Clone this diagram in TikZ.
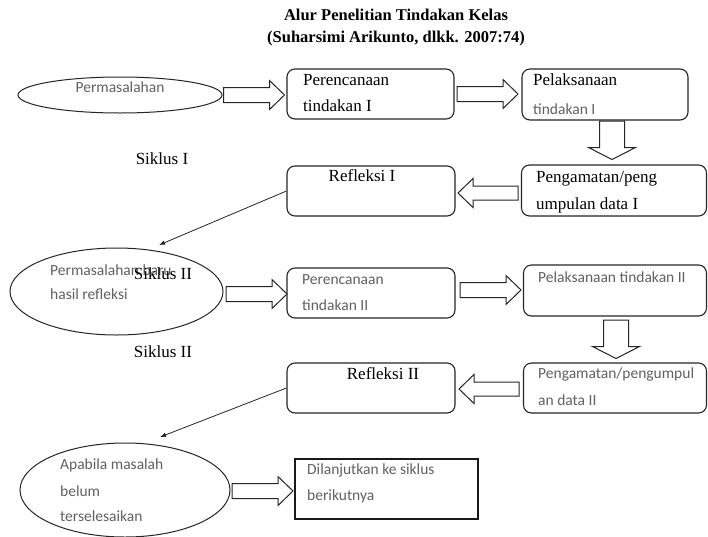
\documentclass[tikz,border=0pt]{standalone}
\usepackage{fontspec}
\setmainfont{Liberation Serif}
\newfontfamily\sansf{Carlito}
\usetikzlibrary{shapes.geometric,arrows.meta}
\begin{document}
\begin{tikzpicture}[x=1pt,y=-1pt,
  rbox/.style={draw=black!85,line width=1.1pt,rounded corners=8pt,inner sep=0pt},
  sbox/.style={draw=black!90,line width=1.1pt,inner sep=0pt},
  ell/.style={ellipse,draw=black!85,line width=1pt,inner sep=0pt},
  ser/.style={font=\fontsize{17}{20}\selectfont,inner sep=0pt,text height=0.7em,text depth=0.2em},
  sertitle/.style={font=\bfseries\fontsize{16.5}{20}\selectfont,inner sep=0pt,text height=0.7em,text depth=0.2em},
  san/.style={font=\sansf\fontsize{15.5}{18}\selectfont,text=black!62,inner sep=0pt,text height=0.7em,text depth=0.2em},
  blk/.style={draw=black!85,line width=1pt,fill=white,line join=miter},
  thinarr/.style={draw=black!85,line width=0.8pt,-{Latex[length=6pt,width=4.5pt]}},
  rblock/.pic={\draw[blk] (0,-7.5)--(46,-7.5)--(46,-14.5)--(61,0)--(46,14.5)--(46,7.5)--(0,7.5)--cycle;},
  lblock/.pic={\draw[blk] (0,-7)--(-45,-7)--(-45,-14.5)--(-60,0)--(-45,14.5)--(-45,7)--(0,7)--cycle;},
  dblock/.pic={\draw[blk] (-12.5,0)--(-12.5,26.5)--(-23.5,26.5)--(0,38.5)--(23.5,26.5)--(12.5,26.5)--(12.5,0)--cycle;}
]
\useasboundingbox (0,0) rectangle (708,536);
\fill[white] (0,0) rectangle (708,536);

% title
\node[sertitle] (t1) at (396,18) {Alur Penelitian Tindakan Kelas};
\node[sertitle] (t2) at (396,40) {(Suharsimi Arikunto, dlkk. 2007:74)};

% shapes
\node[ell,minimum width=204pt,minimum height=36pt] (E1) at (120,95) {};
\node[rbox,minimum width=167pt,minimum height=50pt] (B1) at (370.5,94) {};
\node[rbox,minimum width=166pt,minimum height=51pt] (B2) at (605,94.5) {};
\node[rbox,minimum width=168pt,minimum height=50pt] (B3) at (371,191) {};
\node[rbox,minimum width=185pt,minimum height=51pt] (B4) at (614,190.5) {};
\node[ell,minimum width=213pt,minimum height=87pt] (E2) at (116.5,291.5) {};
\node[rbox,minimum width=168pt,minimum height=50pt] (B5) at (371,293) {};
\node[rbox,minimum width=183pt,minimum height=51pt] (B6) at (615,290.5) {};
\node[rbox,minimum width=168pt,minimum height=50pt] (B7) at (371,388) {};
\node[rbox,minimum width=183pt,minimum height=50pt] (B8) at (615,388) {};
\node[ell,minimum width=210pt,minimum height=94pt] (E3) at (125,490) {};
\node[sbox,minimum width=183pt,minimum height=60pt] (B9) at (386.5,489) {};

% block arrows
\pic at (223.5,95) {rblock};
\pic at (457,94) {rblock};
\pic at (518,193) {lblock};
\pic at (226,294) {rblock};
\pic at (460,290) {rblock};
\pic at (519,389) {lblock};
\pic at (232,491) {rblock};
\pic at (612,121) {dblock};
\pic at (616,320) {dblock};

% thin arrows
\coordinate (p1) at (159,245);
\coordinate (p2) at (160,437);
\draw[thinarr] (B3.west) -- (p1);
\draw[thinarr] (B7.west) -- (p2);

% texts
\node[san] (x1) at (120,90) {Permasalahan};
\node[ser,anchor=west] (x2) at (303,83) {Perencanaan};
\node[ser,anchor=west] (x3) at (303,109) {tindakan I};
\node[ser,anchor=west] (x4) at (533,83) {Pelaksanaan};
\node[san,anchor=west] (x5) at (533,112) {tindakan I};
\node[ser] (s1) at (162,162) {Siklus I};
\node[ser] (x6) at (362,179) {Refleksi I};
\node[ser,anchor=west] (x7) at (536,180) {Pengamatan/peng};
\node[ser,anchor=west] (x8) at (536,207) {umpulan data I};
\node[san,anchor=west] (x9) at (50,273) {Permasalahan baru};
\node[san,anchor=west] (x10) at (50,297) {hasil refleksi};
\node[ser] (s2) at (163,277) {Siklus II};
\node[san,anchor=west] (x11) at (302,282) {Perencanaan};
\node[san,anchor=west] (x12) at (302,308) {tindakan II};
\node[san,anchor=west] (x13) at (538,280) {Pelaksanaan tindakan II};
\node[ser] (s3) at (163,355) {Siklus II};
\node[ser] (x14) at (383,377) {Refleksi II};
\node[san,anchor=west] (x15) at (538,376) {Pengamatan/pengumpul};
\node[san,anchor=west] (x16) at (538,403) {an data II};
\node[san,anchor=west] (x17) at (60,467) {Apabila masalah};
\node[san,anchor=west] (x18) at (60,494) {belum};
\node[san,anchor=west] (x19) at (60,519) {terselesaikan};
\node[san,anchor=west] (x20) at (307,472) {Dilanjutkan ke siklus};
\node[san,anchor=west] (x21) at (307,498) {berikutnya};
\end{tikzpicture}
\end{document}
